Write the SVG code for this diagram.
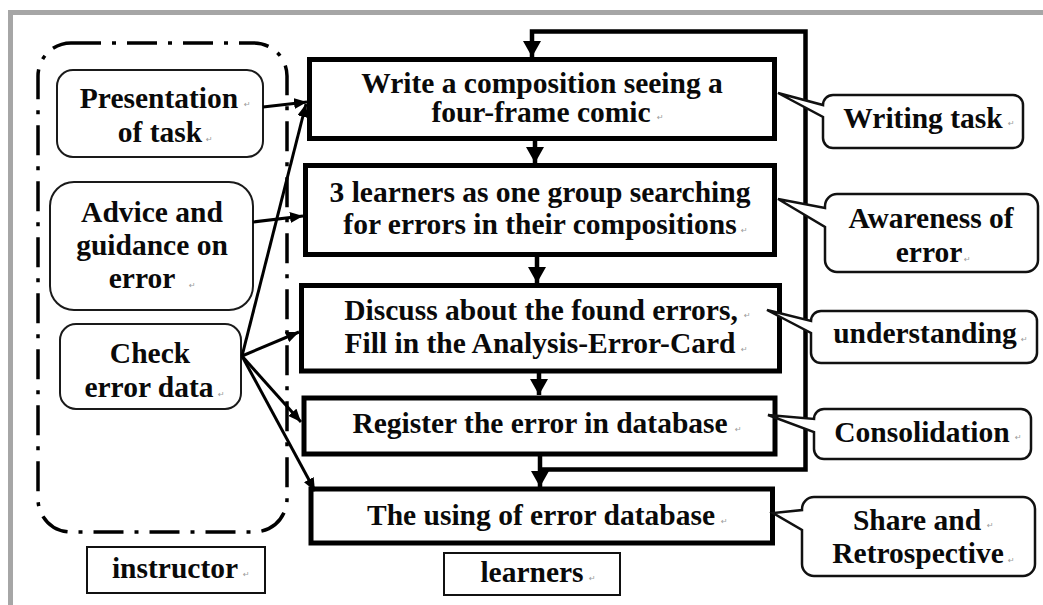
<svg xmlns="http://www.w3.org/2000/svg" width="1043" height="605" viewBox="0 0 1043 605">
<defs>
<style>
.t{font-family:"Liberation Serif","Times New Roman",serif;font-weight:bold;font-size:29.5px;fill:#0a0a0a;text-anchor:middle}
.pm{font-family:"DejaVu Sans",sans-serif;font-size:8px;fill:#9a9a9a}
.box{fill:#fff;stroke:#000;stroke-width:5}
.node{fill:#fff;stroke:#1a1a1a;stroke-width:2}
.lbl{fill:#fff;stroke:#111;stroke-width:2}
.call{fill:#fff;stroke:#111;stroke-width:2.5;stroke-linejoin:miter}
.flow{fill:none;stroke:#000;stroke-width:4.5}
.link{fill:none;stroke:#000;stroke-width:3}
</style>
<marker id="big" markerUnits="userSpaceOnUse" viewBox="0 0 16 18" refX="16" refY="9" markerWidth="16" markerHeight="18" orient="auto">
<path d="M0,0 L16,9 L0,18 Z" fill="#000"/>
</marker>
<marker id="small" markerUnits="userSpaceOnUse" viewBox="0 0 13 11" refX="13" refY="5.5" markerWidth="13" markerHeight="11" orient="auto">
<path d="M0,0 L13,5.5 L0,11 Z" fill="#000"/>
</marker>
</defs>
<rect width="1043" height="605" fill="#fff"/>
<path d="M10.5,605 V12.5 H1043" fill="none" stroke="#a6a6a6" stroke-width="5"/>

<g id="instructor-area">
<rect x="38" y="43" width="249" height="489" rx="33" fill="none" stroke="#000" stroke-width="3.5" stroke-dasharray="30 11 4 11"/>
</g>

<g id="n-presentation">
<rect class="node" x="57" y="70" width="206" height="87" rx="16"/>
<text class="t" x="159" y="108">Presentation</text>
<text class="t" x="160" y="142">of task</text>
<text class="pm" x="244" y="107">↵</text><text class="pm" x="206" y="142">↵</text>
</g>
<g id="n-advice">
<rect class="node" x="50" y="182" width="203" height="128" rx="24"/>
<text class="t" x="152" y="222">Advice and</text>
<text class="t" x="152" y="255">guidance on</text>
<text class="t" x="142" y="288">error</text>
<text class="pm" x="189" y="288">↵</text>
</g>
<g id="n-check">
<rect class="node" x="60" y="324" width="181" height="85" rx="16"/>
<text class="t" x="150" y="363">Check</text>
<text class="t" x="149" y="397">error data</text>
<text class="pm" x="218" y="397">↵</text>
</g>
<g id="n-instructor">
<rect class="lbl" x="87" y="547" width="178" height="46"/>
<text class="t" x="175" y="578">instructor</text>
<text class="pm" x="243" y="577">↵</text>
</g>

<g id="b-write">
<rect class="box" x="309.5" y="59.5" width="465" height="79"/>
<text class="t" x="542" y="93">Write a composition seeing a</text>
<text class="t" x="541" y="122">four-frame comic</text>
<text class="pm" x="657" y="120">↵</text>
</g>
<g id="b-search">
<rect class="box" x="305.5" y="165.5" width="469" height="89"/>
<text class="t" x="540" y="202">3 learners as one group searching</text>
<text class="t" x="540" y="234">for errors in their compositions</text>
<text class="pm" x="741" y="233">↵</text>
</g>
<g id="b-discuss">
<rect class="box" x="301.5" y="285.5" width="478" height="85.5"/>
<text class="t" x="541" y="320">Discuss about the found errors,</text>
<text class="t" x="540" y="353">Fill in the Analysis-Error-Card</text>
<text class="pm" x="744" y="318">↵</text><text class="pm" x="741" y="352">↵</text>
</g>
<g id="b-register">
<rect class="box" x="304" y="398" width="471" height="56"/>
<text class="t" x="540" y="433">Register the error in database</text>
<text class="pm" x="735" y="432">↵</text>
</g>
<g id="b-using">
<rect class="box" x="311" y="489" width="461.5" height="54"/>
<text class="t" x="541" y="525">The using of error database</text>
<text class="pm" x="721" y="524">↵</text>
</g>
<g id="n-learners">
<rect class="lbl" x="444" y="553" width="176" height="42"/>
<text class="t" x="532" y="582">learners</text>
<text class="pm" x="589" y="581">↵</text>
</g>

<g id="connectors">
<path class="flow" d="M535,139 V163" marker-end="url(#big)"/>
<path class="flow" d="M537,255 V283" marker-end="url(#big)"/>
<path class="flow" d="M539,371 V395" marker-end="url(#big)"/>
<path class="flow" d="M540,454 V487" marker-end="url(#big)"/>
<path class="flow" d="M540,469.5 H805.5 V31.5 H532 V57" marker-end="url(#big)"/>
<path class="link" d="M263,107 L307,102" marker-end="url(#small)"/>
<path class="link" d="M253,222 L303,216" marker-end="url(#small)"/>
<path class="link" d="M242,356 L306,104" marker-end="url(#small)"/>
<path class="link" d="M242,356 L299,332" marker-end="url(#small)"/>
<path class="link" d="M242,356 L301,422" marker-end="url(#small)"/>
<path class="link" d="M242,356 L315,491" stroke-width="4" marker-end="url(#small)"/>
</g>

<g id="c-writing">
<path class="call" d="M833,95 H1013 A10,10 0 0 1 1023,105 V138 A10,10 0 0 1 1013,148 H833 A10,10 0 0 1 823,138 V117 L778,93 L823,105 A10,10 0 0 1 833,95 Z"/>
<text class="t" x="923" y="128">Writing task</text>
<text class="pm" x="1008" y="126">↵</text>
</g>
<g id="c-awareness">
<path class="call" d="M837,194 H1026 A12,12 0 0 1 1038,206 V260 A12,12 0 0 1 1026,272 H837 A12,12 0 0 1 825,260 V227 L778,199 L825,208 V206 A12,12 0 0 1 837,194 Z"/>
<text class="t" x="931" y="228">Awareness of</text>
<text class="t" x="929" y="262">error</text>
<text class="pm" x="964" y="262">↵</text>
</g>
<g id="c-understanding">
<path class="call" d="M821,311 H1027 A10,10 0 0 1 1037,321 V353 A10,10 0 0 1 1027,363 H821 A10,10 0 0 1 811,353 V333 L767,310 L811,321 A10,10 0 0 1 821,311 Z"/>
<text class="t" x="925" y="343">understanding</text>
<text class="pm" x="1021" y="342">↵</text>
</g>
<g id="c-consolidation">
<path class="call" d="M824,409 H1021 A10,10 0 0 1 1031,419 V449 A10,10 0 0 1 1021,459 H824 A10,10 0 0 1 814,449 V432 L768,415 L814,419 A10,10 0 0 1 824,409 Z"/>
<text class="t" x="922" y="442">Consolidation</text>
<text class="pm" x="1015" y="440">↵</text>
</g>
<g id="c-share">
<path class="call" d="M814,497 H1023 A12,12 0 0 1 1035,509 V564 A12,12 0 0 1 1023,576 H814 A12,12 0 0 1 802,564 V530 L773,513 L802,510 V509 A12,12 0 0 1 814,497 Z"/>
<text class="t" x="917" y="530">Share and</text>
<text class="t" x="918" y="563">Retrospective</text>
<text class="pm" x="987" y="528">↵</text><text class="pm" x="1008" y="563">↵</text>
</g>
</svg>
